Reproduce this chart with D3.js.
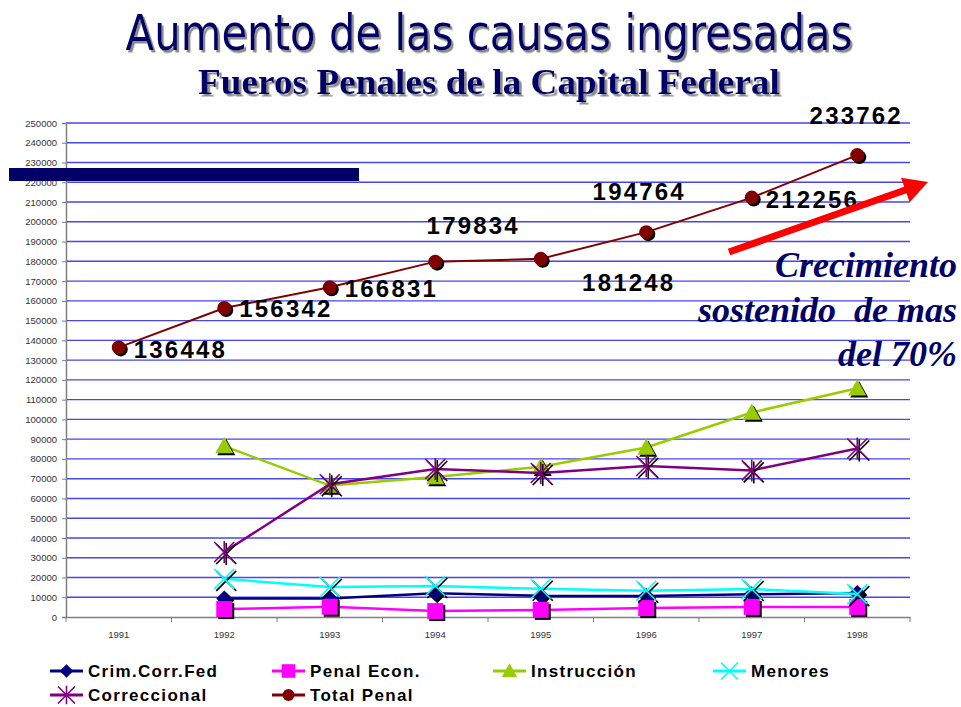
<!DOCTYPE html>
<html>
<head>
<meta charset="utf-8">
<script src="https://cdn.jsdelivr.net/npm/d3@7"></script>
<style>
  html, body { margin: 0; padding: 0; background: #fff; }
  svg { display: block; }
</style>
</head>
<body>
<svg id="chart" width="961" height="707"></svg>
<script>
// data
const years = ['1991', '1992', '1993', '1994', '1995', '1996', '1997', '1998']
const crimCorrFed = [null, 9300, 9300, 12000, 10700, 10600, 11500, 12200]
const penalEcon = [null, 4000, 5200, 3000, 3600, 4500, 5100, 5100]
const instruccion = [null, 86500, 66500, 70800, 76000, 85800, 103500, 115800]
const menores = [null, 19300, 15200, 15700, 14300, 13300, 14200, 11600]
const correccional = [null, 32900, 67200, 74900, 72900, 76400, 74200, 85300]
const totalPenal = [136448, 156342, 166831, 179834, 181248, 194764, 212256, 233762]
const yTicks = d3.range(0, 250001, 10000)

const series = [
  { name: 'Crim.Corr.Fed', values: crimCorrFed, color: '#000080', marker: 'diamond', lw: 2.5 },
  { name: 'Penal Econ.', values: penalEcon, color: '#ff00ff', marker: 'square', lw: 2.5 },
  { name: 'Instrucción', values: instruccion, color: '#99cc00', marker: 'triangle', lw: 2.5 },
  { name: 'Menores', values: menores, color: '#00ffff', marker: 'cross', lw: 2.5 },
  { name: 'Correccional', values: correccional, color: '#800080', marker: 'star', lw: 2.5 },
  { name: 'Total Penal', values: totalPenal, color: '#800000', marker: 'circle', lw: 2 }
]

// where each Total Penal label sits relative to its point
const labelPos = [
  { dx: 15, dy: 11, anchor: 'start' },
  { dx: 15, dy: 9, anchor: 'start' },
  { dx: 15, dy: 10, anchor: 'start' },
  { dx: 38, dy: -28, anchor: 'middle' },
  { dx: 88, dy: 32, anchor: 'middle' },
  { dx: -7, dy: -32, anchor: 'middle' },
  { dx: 14, dy: 10, anchor: 'start' },
  { dx: -1, dy: -31, anchor: 'middle' }
]

const svg = d3.select('#chart')
const navy = '#000066'

// grey shadow for the headings
svg.append('defs')
  .append('filter')
  .attr('id', 'shadow')
  .attr('x', '-5%').attr('y', '-30%').attr('width', '110%').attr('height', '160%')
  .append('feDropShadow')
  .attr('dx', 2.5).attr('dy', 2.5).attr('stdDeviation', 0.6)
  .attr('flood-color', '#8c8c8c').attr('flood-opacity', 1)

const margin = { top: 123, right: 51, bottom: 90, left: 66 }
const width = 961, height = 707

const x = d3.scaleBand()
  .domain(years)
  .range([margin.left, width - margin.right])

const y = d3.scaleLinear()
  .domain([0, 250000])
  .range([height - margin.bottom, margin.top])

const cx = (i) => x(years[i]) + x.bandwidth() / 2

// gridlines
svg.append('g')
  .selectAll('line')
  .data(yTicks.filter(d => d > 0))
  .join('line')
  .attr('x1', margin.left)
  .attr('x2', width - margin.right)
  .attr('y1', d => y(d))
  .attr('y2', d => y(d))
  .attr('stroke', '#4646ec')
  .attr('stroke-width', 1.4)

// y axis
const yAxisG = svg.append('g')
  .attr('transform', `translate(${margin.left},0)`)
  .call(d3.axisLeft(y).tickValues(yTicks).tickSize(4).tickPadding(5).tickFormat(d3.format('d')))
yAxisG.select('.domain').attr('stroke', '#808080').attr('stroke-width', 1.5)
yAxisG.selectAll('.tick line').attr('stroke', '#808080')
yAxisG.selectAll('.tick text')
  .attr('fill', '#333')
  .style('font-family', 'Liberation Sans, Arial, sans-serif')
  .style('font-size', '9.5px')

// x axis
const xAxisG = svg.append('g')
  .attr('transform', `translate(0,${y(0)})`)
  .call(d3.axisBottom(x).tickSize(0).tickPadding(14))
xAxisG.select('.domain').attr('stroke', '#808080').attr('stroke-width', 1.5)
xAxisG.selectAll('.tick text')
  .attr('fill', '#333')
  .style('font-family', 'Liberation Sans, Arial, sans-serif')
  .style('font-size', '9.5px')
xAxisG.append('g')
  .selectAll('line')
  .data(d3.range(years.length + 1))
  .join('line')
  .attr('x1', i => margin.left + i * x.step())
  .attr('x2', i => margin.left + i * x.step())
  .attr('y1', 0)
  .attr('y2', 5)
  .attr('stroke', '#808080')

// marker drawing
function drawMarker(g, type, color, px, py, scale = 1) {
  if (type === 'diamond') {
    const s = 8 * scale
    g.append('path').attr('d', `M${px},${py - s}L${px + s},${py}L${px},${py + s}L${px - s},${py}Z`).attr('fill', color)
  } else if (type === 'square') {
    const s = 8 * scale
    g.append('rect').attr('x', px - s).attr('y', py - s).attr('width', 2 * s).attr('height', 2 * s).attr('fill', color)
  } else if (type === 'triangle') {
    const s = 9 * scale
    g.append('path').attr('d', `M${px},${py - s}L${px + s},${py + s * 0.8}L${px - s},${py + s * 0.8}Z`).attr('fill', color)
  } else if (type === 'cross') {
    const s = 10 * scale
    g.append('path').attr('d', `M${px - s},${py - s}L${px + s},${py + s}M${px - s},${py + s}L${px + s},${py - s}`)
      .attr('stroke', color).attr('stroke-width', 1.6).attr('fill', 'none')
  } else if (type === 'star') {
    const s = 10 * scale
    g.append('path').attr('d', `M${px - s},${py - s}L${px + s},${py + s}M${px - s},${py + s}L${px + s},${py - s}M${px},${py - s * 1.1}L${px},${py + s * 1.1}`)
      .attr('stroke', color).attr('stroke-width', 1.6).attr('fill', 'none')
  } else if (type === 'circle') {
    g.append('circle').attr('cx', px).attr('cy', py).attr('r', 7 * scale).attr('fill', color)
  }
}

const line = d3.line()
  .defined(d => d.v != null)
  .x(d => cx(d.i))
  .y(d => y(d.v))

series.forEach(s => {
  const pts = s.values.map((v, i) => ({ v, i }))
  const g = svg.append('g')
  g.append('path')
    .attr('d', line(pts))
    .attr('fill', 'none')
    .attr('stroke', s.color)
    .attr('stroke-width', s.lw)
  pts.filter(d => d.v != null).forEach(d => {
    const sh = g.append('g').attr('transform', 'translate(2,2)')
    drawMarker(sh, s.marker, '#000', cx(d.i), y(d.v))
    drawMarker(g, s.marker, s.color, cx(d.i), y(d.v))
  })
})

// Total Penal labels
svg.append('g')
  .selectAll('text')
  .data(totalPenal)
  .join('text')
  .attr('x', (d, i) => cx(i) + labelPos[i].dx)
  .attr('y', (d, i) => y(d) + labelPos[i].dy)
  .attr('text-anchor', (d, i) => labelPos[i].anchor)
  .style('font-family', 'Liberation Sans, Arial, sans-serif')
  .style('font-weight', 'bold')
  .style('font-size', '24px')
  .style('letter-spacing', '2.2px')
  .attr('fill', '#000')
  .text(d => d)

// headings: drawn at natural size, then squeezed horizontally to the slide's width
function heading(txt, cxPos, base, targetW, font) {
  const t = svg.append('text')
    .attr('text-anchor', 'middle')
    .attr('fill', navy)
    .attr('filter', 'url(#shadow)')
    .style('font-family', font.family)
    .style('font-size', font.size + 'px')
    .style('font-weight', font.weight || 'normal')
    .text(txt)
  const k = targetW / t.node().getComputedTextLength()
  t.attr('transform', `translate(${cxPos},${base}) scale(${k},1)`)
}

heading('Aumento de las causas ingresadas', 489, 50, 727, { family: 'DejaVu Sans, sans-serif', size: 49 })
heading('Fueros Penales de la Capital Federal', 489, 94, 582, { family: 'Liberation Serif, Times New Roman, serif', size: 36, weight: 'bold' })

// dark bar
svg.append('rect').attr('x', 9).attr('y', 168).attr('width', 350).attr('height', 13).attr('fill', navy)

// red arrow
const a0 = [729, 252], a1 = [928, 182]
const ang = Math.atan2(a1[1] - a0[1], a1[0] - a0[0])
const len = Math.hypot(a1[0] - a0[0], a1[1] - a0[1])
const headL = 24, headW = 13, shaftW = 3.5
svg.append('path')
  .attr('transform', `translate(${a0[0]},${a0[1]}) rotate(${ang * 180 / Math.PI})`)
  .attr('d', `M0,${-shaftW}L${len - headL},${-shaftW}L${len - headL},${-headW}L${len},0L${len - headL},${headW}L${len - headL},${shaftW}L0,${shaftW}Z`)
  .attr('fill', '#ff0000')

// annotation
const note = ['Crecimiento', 'sostenido  de mas', 'del 70%']
const noteY = [277, 322, 366]
note.forEach((t, i) => {
  svg.append('text')
    .attr('x', 957)
    .attr('y', noteY[i])
    .attr('text-anchor', 'end')
    .attr('fill', navy)
    .style('font-family', 'Liberation Serif, Times New Roman, serif')
    .style('font-size', '36px')
    .style('font-weight', 'bold')
    .style('font-style', 'italic')
    .style('white-space', 'pre')
    .text(t)
})

// legend
const legendPos = [
  { x: 50, y: 671 }, { x: 272, y: 671 }, { x: 493, y: 671 }, { x: 713, y: 671 },
  { x: 50, y: 695 }, { x: 272, y: 695 }
]
series.forEach((s, i) => {
  const p = legendPos[i]
  const g = svg.append('g')
  g.append('line')
    .attr('x1', p.x).attr('x2', p.x + 33)
    .attr('y1', p.y).attr('y2', p.y)
    .attr('stroke', s.color).attr('stroke-width', 3)
  drawMarker(g, s.marker, s.color, p.x + 16.5, p.y, 0.85)
  g.append('text')
    .attr('x', p.x + 38)
    .attr('y', p.y + 6)
    .style('font-family', 'Liberation Sans, Arial, sans-serif')
    .style('font-weight', 'bold')
    .style('font-size', '17px')
    .style('letter-spacing', '1.3px')
    .attr('fill', '#000')
    .text(s.name)
})
</script>
</body>
</html>
